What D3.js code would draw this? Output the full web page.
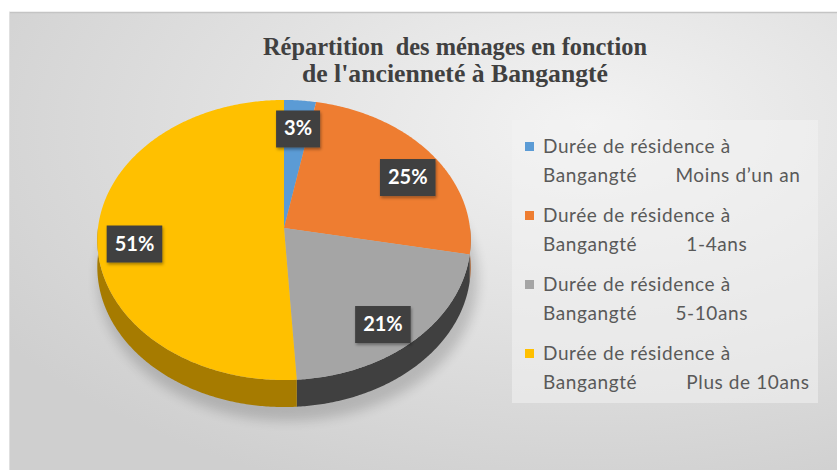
<!DOCTYPE html>
<html>
<head>
    <meta charset="utf-8">
    <script src="https://d3js.org/d3.v7.min.js"></script>
    <style>
        body { margin: 0; background: #fff; }
        svg { display: block; }
    </style>
</head>
<body>
    <svg id="chart" width="837" height="470"></svg>
    <script>
        // data
        const categories = ["Moins d’un an", "1-4ans", "5-10ans", "Plus de 10ans"];
        const legendLabels = [
            "Bangangté       Moins d’un an",
            "Bangangté         1-4ans",
            "Bangangté       5-10ans",
            "Bangangté         Plus de 10ans"
        ];
        const values = [3, 25, 21, 51];
        const topColors = ["#5b9bd5", "#ee7d31", "#a5a5a5", "#ffc000"];
        const sideColors = ["#3f6f9c", "#a9561f", "#404040", "#a67b00"];
        const titleLines = ["Répartition  des ménages en fonction", "de l'ancienneté à Bangangté"];
        const titleWidths = [384, 306];
        const legendLine1 = "Durée de résidence à";

        const svg = d3.select("#chart");
        const width = +svg.attr("width");
        const height = +svg.attr("height");

        const defs = svg.append("defs");
        const bg = defs.append("radialGradient")
            .attr("id", "bg")
            .attr("cx", "70%").attr("cy", "25%").attr("r", "85%");
        bg.append("stop").attr("offset", "0%").attr("stop-color", "#f3f3f3");
        bg.append("stop").attr("offset", "100%").attr("stop-color", "#cfcfcf");

        defs.append("filter").attr("id", "blur")
            .attr("x", "-20%").attr("y", "-40%").attr("width", "140%").attr("height", "180%")
            .append("feGaussianBlur").attr("stdDeviation", 6);

        const boxShadow = defs.append("filter").attr("id", "boxshadow")
            .attr("x", "-30%").attr("y", "-30%").attr("width", "160%").attr("height", "160%");
        boxShadow.append("feDropShadow")
            .attr("dx", 1).attr("dy", 2).attr("stdDeviation", 1.5)
            .attr("flood-color", "#000").attr("flood-opacity", 0.35);

        // panel
        svg.append("rect")
            .attr("x", 9).attr("y", 12)
            .attr("width", width - 9).attr("height", height - 12)
            .attr("fill", "url(#bg)");
        svg.append("line")
            .attr("x1", 9).attr("x2", width).attr("y1", 12.5).attr("y2", 12.5)
            .attr("stroke", "#c4c4c4").attr("stroke-width", 1.5);
        svg.append("line")
            .attr("x1", 9.5).attr("x2", 9.5).attr("y1", 12).attr("y2", height)
            .attr("stroke", "#e0e0e0");

        // title
        svg.append("g").selectAll("text").data(titleLines)
            .join("text")
            .attr("x", 455)
            .attr("y", (d, i) => 55 + i * 27)
            .attr("text-anchor", "middle")
            .style("white-space", "pre")
            .attr("font-family", "'Liberation Serif', 'Times New Roman', serif")
            .attr("font-weight", "bold")
            .attr("font-size", 25)
            .attr("textLength", (d, i) => titleWidths[i])
            .attr("lengthAdjust", "spacingAndGlyphs")
            .attr("fill", "#404040")
            .text(d => d);

        // pie geometry, with a little perspective (front looks bigger)
        const cx = 284, cy = 228, R = 186, B = 139, k = 0.0857, depth = 27;
        const proj = (a, r, dy) => {
            const u = r * Math.sin(a), v = -r * Math.cos(a);
            const s = 1 / (1 - k * v);
            return [cx + R * u * s, cy + B * v * s + (dy || 0)];
        };
        const pie = d3.pie().sort(null).value(d => d);
        const arcs = pie(values);
        const line = d3.line();
        const sample = (s, e) => d3.range(s, e, 0.01).concat([e]);

        // soft shadow under the pie
        svg.append("ellipse")
            .attr("cx", cx + 4).attr("cy", 248 + depth + 4)
            .attr("rx", R + 4).attr("ry", 142)
            .attr("fill", "#000").attr("opacity", 0.16)
            .attr("filter", "url(#blur)");

        // side walls (front half only)
        const sides = svg.append("g");
        arcs.forEach((d, i) => {
            const s = Math.max(d.startAngle, Math.PI / 2);
            const e = Math.min(d.endAngle, Math.PI * 3 / 2);
            if (e <= s) return;
            const angs = sample(s, e);
            const top = angs.map(a => proj(a, 1));
            const bottom = angs.slice().reverse().map(a => proj(a, 1, depth));
            sides.append("path")
                .attr("d", line(top.concat(bottom)) + "Z")
                .attr("fill", sideColors[i]);
        });

        // top surface
        svg.append("g").selectAll("path").data(arcs)
            .join("path")
            .attr("d", d => line([proj(0, 0)].concat(sample(d.startAngle, d.endAngle).map(a => proj(a, 1)))) + "Z")
            .attr("fill", (d, i) => topColors[i]);

        // data labels (placed on the flat ellipse, as the original does)
        const labelCy = 240, labelRx = 187, labelRy = 140;
        const labels = svg.append("g").selectAll("g").data(arcs)
            .join("g")
            .attr("transform", d => {
                const m = (d.startAngle + d.endAngle) / 2;
                return `translate(${cx + 0.8 * labelRx * Math.sin(m)},${labelCy - 0.8 * labelRy * Math.cos(m)})`;
            });
        const rects = labels.append("rect")
            .attr("fill", "#404040")
            .attr("filter", "url(#boxshadow)");
        const txt = labels.append("text")
            .attr("text-anchor", "middle")
            .attr("dy", "0.35em")
            .attr("font-family", "Lato, 'Open Sans', sans-serif")
            .attr("font-weight", "bold")
            .attr("font-size", 20)
            .attr("fill", "#fff")
            .text(d => d.data + "%");
        txt.each(function (d, i) {
            const w = this.getComputedTextLength();
            d3.select(rects.nodes()[i])
                .attr("x", -w / 2 - 8).attr("y", -18)
                .attr("width", w + 16).attr("height", 37);
        });

        // legend
        const legend = svg.append("g");
        legend.append("rect")
            .attr("x", 512).attr("y", 120)
            .attr("width", 306).attr("height", 283)
            .attr("fill", "#f2f2f2").attr("opacity", 0.55);
        const items = legend.selectAll("g").data(categories)
            .join("g")
            .attr("transform", (d, i) => `translate(525,${153 + i * 69})`);
        items.append("rect")
            .attr("x", 0).attr("y", -11)
            .attr("width", 9).attr("height", 9)
            .attr("fill", (d, i) => topColors[i]);
        const lt = items.append("text")
            .attr("font-family", "Lato, 'Open Sans', sans-serif")
            .attr("font-size", 19)
            .attr("letter-spacing", 0.6)
            .attr("fill", "#595959")
            .style("white-space", "pre");
        lt.append("tspan").attr("x", 18).attr("y", 0).text(legendLine1);
        lt.append("tspan").attr("x", 18).attr("y", 29).text((d, i) => legendLabels[i]);
    </script>
</body>
</html>
